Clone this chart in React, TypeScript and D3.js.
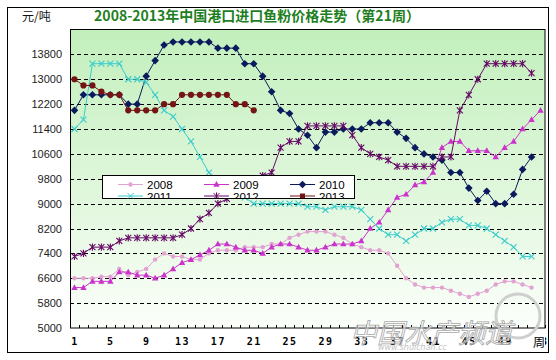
import React, { useEffect, useRef } from 'react'
import * as d3 from 'd3'

const weeks = d3.range(1, 54)
const tickWeeks = [1, 5, 9, 13, 17, 21, 25, 29, 33, 37, 41, 45, 49, 53]
const yTicks = [5000, 5800, 6600, 7400, 8200, 9000, 9800, 10600, 11400, 12200, 13000, 13800]

const s2008 = [6600, 6600, 6600, 6650, 6650, 6900, 6700, 6800, 6900, 7200, 7400, 7300, 7300, 7200, 7200, 7400, 7500, 7500, 7500, 7600, 7600, 7600, 7700, 7700, 7900, 8000, 8100, 8100, 8100, 8000, 7900, 7700, 7600, 7500, 7500, 7400, 7000, 6600, 6400, 6300, 6300, 6300, 6200, 6100, 6000, 6100, 6200, 6400, 6500, 6500, 6400, 6300]
const s2009 = [6300, 6300, 6500, 6500, 6500, 6800, 6800, 6700, 6700, 6600, 6700, 6900, 7100, 7200, 7350, 7500, 7700, 7700, 7600, 7500, 7500, 7400, 7600, 7700, 7700, 7600, 7500, 7500, 7600, 7700, 7700, 7700, 7800, 8200, 8400, 8800, 9200, 9300, 9600, 9700, 10000, 10800, 11000, 11000, 10700, 10700, 10700, 10500, 10800, 11000, 11400, 11700, 12000]
const s2010 = [12000, 12500, 12500, 12500, 12500, 12500, 12200, 12200, 13100, 13600, 14100, 14200, 14200, 14200, 14200, 14200, 14000, 14000, 14000, 13500, 13500, 13100, 12600, 12000, 11900, 11400, 11200, 10800, 11300, 11300, 11400, 11400, 11400, 11600, 11600, 11600, 11300, 11100, 10800, 10600, 10500, 10400, 10000, 10000, 9500, 9100, 9400, 9000, 9000, 9300, 10100, 10500]
const s2011 = [11400, 11700, 13500, 13500, 13500, 13500, 13000, 13000, 12900, 12500, 12000, 11800, 11400, 11000, 10500, 10000, 9800, 9600, 9400, 9200, 9000, 9000, 9000, 9000, 9000, 9000, 8900, 8900, 8800, 8900, 8900, 8900, 8800, 8500, 8200, 8000, 8000, 7800, 8000, 8200, 8200, 8400, 8500, 8500, 8300, 8300, 8200, 8000, 7800, 7600, 7300, 7300]
const s2012 = [7300, 7400, 7600, 7600, 7600, 7800, 7900, 7900, 7900, 7900, 7900, 7900, 8000, 8200, 8500, 8700, 9000, 9150, 9400, 9600, 9800, 9900, 10000, 10800, 11000, 11000, 11500, 11500, 11500, 11500, 11500, 11200, 10800, 10600, 10500, 10400, 10200, 10200, 10200, 10200, 10200, 10500, 10500, 12000, 12500, 13000, 13500, 13500, 13500, 13500, 13500, 13200]
const s2013 = [13000, 12800, 12800, 12600, 12500, 12500, 12000, 12000, 12000, 12000, 12200, 12200, 12500, 12500, 12500, 12500, 12500, 12500, 12200, 12200, 12000]

const series = [
  { name: '2008', values: s2008, color: '#e2a2d2', marker: 'dot' },
  { name: '2009', values: s2009, color: '#cc33cc', marker: 'triangle' },
  { name: '2010', values: s2010, color: '#0a1a5c', marker: 'diamond' },
  { name: '2011', values: s2011, color: '#3ccccc', marker: 'cross' },
  { name: '2012', values: s2012, color: '#660a66', marker: 'star' },
  { name: '2013', values: s2013, color: '#741414', marker: 'circle' }
]

function markerPath(type: string) {
  switch (type) {
    case 'dot': return 'M2.2,0A2.2,2.2 0 1,1 -2.2,0A2.2,2.2 0 1,1 2.2,0Z'
    case 'circle': return 'M3.1,0A3.1,3.1 0 1,1 -3.1,0A3.1,3.1 0 1,1 3.1,0Z'
    case 'triangle': return 'M0,-3.4L3.2,2.3L-3.2,2.3Z'
    case 'diamond': return 'M0,-3.8L3.8,0L0,3.8L-3.8,0Z'
    case 'cross': return 'M-3,-3L3,3M-3,3L3,-3'
    default: return 'M-3,-3L3,3M-3,3L3,-3M0,-3.6L0,3.6'
  }
}
const stroked = (t: string) => t == 'cross' || t == 'star'

export default function App() {
  const ref = useRef<SVGSVGElement>(null)

  useEffect(() => {
    var width = 556,
      height = 360
    var left = 70, right = 545, top = 29.5, bottom = 328

    var svg = d3.select(ref.current)
    svg.selectAll('*').remove()

    var x = d3.scalePoint<number>().domain(weeks).range([left, right]).padding(0.5)
    var y = d3.scaleLinear().domain([5000, 14600]).range([bottom, top])

    var defs = svg.append('defs')
    var grad = defs.append('linearGradient').attr('id', 'bg').attr('x1', 0).attr('y1', 0).attr('x2', 0).attr('y2', 1)
    grad.append('stop').attr('offset', '0%').attr('stop-color', '#c2efbc')
    grad.append('stop').attr('offset', '55%').attr('stop-color', '#e0f7dc')
    grad.append('stop').attr('offset', '100%').attr('stop-color', '#fcfffb')
    defs.append('clipPath').attr('id', 'legclip')
      .append('rect').attr('x', 102.5).attr('y', 175.5).attr('width', 252).attr('height', 23)

    // outer frame
    svg.append('rect').attr('x', 0).attr('y', 0).attr('width', width).attr('height', height).attr('fill', '#fff')
    svg.append('rect').attr('x', 7.5).attr('y', 7.5).attr('width', 541).attr('height', 345)
      .attr('fill', '#fff').attr('stroke', '#000')

    svg.append('text').attr('x', 22).attr('y', 21).text('元/吨')
      .style('font-family', '"Noto Sans CJK SC", sans-serif').style('font-size', '12px').attr('fill', '#111')

    svg.append('text').attr('x', 257).attr('y', 21).attr('text-anchor', 'middle')
      .text('2008-2013年中国港口进口鱼粉价格走势（第21周）')
      .style('font-family', '"Noto Sans CJK SC", sans-serif').style('font-size', '14px').style('font-weight', 'bold')
      .attr('fill', '#1e7f22')

    // plot area
    svg.append('rect').attr('x', left).attr('y', top).attr('width', right - left).attr('height', bottom - top)
      .attr('fill', 'url(#bg)')

    svg.append('g').selectAll('line').data(yTicks.filter(d => d > 5000)).enter().append('line')
      .attr('x1', left).attr('x2', right).attr('y1', d => Math.round(y(d)) + 0.5).attr('y2', d => Math.round(y(d)) + 0.5)
      .attr('stroke', '#000').attr('stroke-dasharray', '4,3')

    var yAxis = svg.append('g').attr('transform', 'translate(' + left + ',0)')
      .call(d3.axisLeft(y).tickValues(yTicks).tickSize(0).tickPadding(8).tickFormat(d3.format('d')))
    yAxis.select('.domain').remove()
    yAxis.selectAll('text').style('font-family', '"Liberation Sans", Arial, sans-serif').style('font-size', '11px').attr('fill', '#222')

    svg.append('rect').attr('x', left + 0.5).attr('y', top).attr('width', right - left - 0.5).attr('height', bottom - top)
      .attr('fill', 'none').attr('stroke', '#000')

    // week ticks along the bottom
    var step = x.step()
    svg.append('g').selectAll('line').data(d3.range(0, weeks.length + 1)).enter().append('line')
      .attr('x1', d => Math.round(left + d * step) + 0.5).attr('x2', d => Math.round(left + d * step) + 0.5)
      .attr('y1', bottom).attr('y2', bottom - 3).attr('stroke', '#000')

    var line = d3.line<number>().x((d, i) => x(weeks[i])!).y(d => y(d))
    series.forEach(s => {
      var g = svg.append('g')
      g.append('path').attr('d', line(s.values)).attr('fill', 'none').attr('stroke', s.color).attr('stroke-width', 1)
      g.selectAll('path.m').data(s.values).enter().append('path').attr('class', 'm')
        .attr('d', markerPath(s.marker))
        .attr('transform', (d, i) => 'translate(' + x(weeks[i]) + ',' + y(d) + ')')
        .attr('fill', stroked(s.marker) ? 'none' : s.color)
        .attr('stroke', stroked(s.marker) ? s.color : 'none')
        .attr('stroke-width', 1.1)
    })

    // legend (second row is cut off by the box)
    svg.append('rect').attr('x', 102.5).attr('y', 175.5).attr('width', 252).attr('height', 23)
      .attr('fill', '#fff').attr('stroke', '#000')
    var leg = svg.append('g').attr('clip-path', 'url(#legclip)')
    series.forEach((s, i) => {
      var lx = 118 + (i % 3) * 86
      var ly = i < 3 ? 184.5 : 196
      leg.append('line').attr('x1', lx).attr('x2', lx + 25).attr('y1', ly).attr('y2', ly).attr('stroke', s.color)
      var mk = s.marker == 'circle' ? 'M-2.5,-2.5L2.5,-2.5L2.5,2.5L-2.5,2.5Z' : markerPath(s.marker)
      leg.append('path').attr('d', mk).attr('transform', 'translate(' + (lx + 12.5) + ',' + ly + ')')
        .attr('fill', stroked(s.marker) ? 'none' : s.color)
        .attr('stroke', stroked(s.marker) ? s.color : 'none')
      leg.append('text').attr('x', lx + 29).attr('y', ly + (i < 3 ? 4 : 5)).text(s.name)
        .style('font-family', '"Liberation Sans", Arial, sans-serif').style('font-size', '11.5px').attr('fill', '#000')
    })

    var xAxis = svg.append('g').attr('transform', 'translate(0,' + bottom + ')')
      .call(d3.axisBottom(x).tickValues(tickWeeks).tickSize(0).tickPadding(10))
    xAxis.select('.domain').remove()
    xAxis.selectAll('text').style('font-family', '"DejaVu Sans Mono", monospace').style('font-size', '10px')
      .style('font-weight', 'bold').style('letter-spacing', '1.5px').attr('fill', '#000')

    // watermark
    svg.append('circle').attr('cx', 518).attr('cy', 316).attr('r', 22).attr('fill', 'none').attr('stroke', '#cfcfcf').attr('stroke-width', 3)
    svg.append('text').attr('x', 350).attr('y', 343).text('中国水产频道')
      .style('font-family', '"Noto Sans CJK SC", sans-serif').style('font-size', '27px').style('font-style', 'italic')
      .attr('fill', '#fff').attr('fill-opacity', 0.55).attr('stroke', '#a8a8a8').attr('stroke-width', 0.8)
    svg.append('text').attr('x', 378).attr('y', 350).text('www.shuichan.cc')
      .style('font-family', '"DejaVu Sans", sans-serif').style('font-size', '8px').style('font-style', 'italic')
      .attr('fill', '#c4c4c4')

    svg.append('rect').attr('x', 532).attr('y', 334).attr('width', 13).attr('height', 16).attr('fill', '#fff')
    svg.append('text').attr('x', 533).attr('y', 347).text('周')
      .style('font-family', '"Noto Sans CJK SC", sans-serif').style('font-size', '12px').attr('fill', '#000')
  }, [])

  return (
    <svg ref={ref} width={556} height={360} style={{ position: 'absolute', left: 0, top: 0 }} />
  )
}
